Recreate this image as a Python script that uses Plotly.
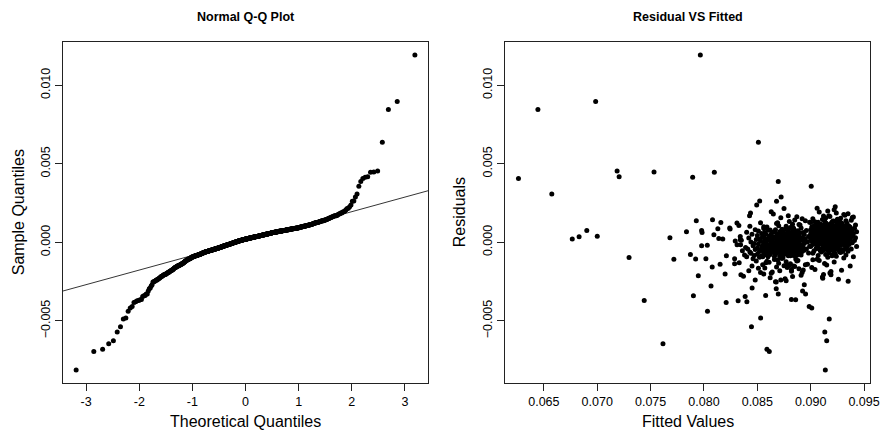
import numpy as np
import plotly.graph_objects as go
from statistics import NormalDist

# ---------------- data ----------------
# individually identified points (fitted value, residual)
FITTED_OUT = [
    0.06262, 0.06444, 0.06574, 0.06766, 0.06830, 0.06902, 0.06985, 0.07000, 0.07186, 0.07205,
    0.07298, 0.07440, 0.07532, 0.07616, 0.07681, 0.07718, 0.07836, 0.07873, 0.07894, 0.07901,
    0.07922, 0.07928, 0.07947, 0.07966, 0.07978, 0.07978, 0.07982, 0.08018, 0.08031, 0.08033,
    0.08066, 0.08077, 0.08080, 0.08097, 0.08093, 0.08130, 0.08139, 0.08151, 0.08158, 0.08176,
    0.08198, 0.08208, 0.08210, 0.08241, 0.08245, 0.08287, 0.08287, 0.08293, 0.08309, 0.08320,
    0.08327, 0.08346, 0.08340, 0.08343, 0.08386, 0.08402, 0.08427, 0.08436, 0.08451, 0.08445,
    0.08494, 0.08510, 0.08522, 0.08531, 0.08578, 0.08590, 0.08612, 0.08680, 0.08696, 0.08723,
    0.08677, 0.08696, 0.08677, 0.08819, 0.08859, 0.08924, 0.08952, 0.08940, 0.08986, 0.09010,
    0.09005, 0.09174, 0.09132, 0.09150, 0.09137, 0.09351, 0.09289, 0.09190, 0.09113, 0.09020,
]
RESID_OUT = [
    0.00406, 0.00845, 0.00308, 0.00021, 0.00035, 0.00076, 0.00896, 0.00039, 0.00454, 0.00418,
    -0.00096, -0.00370, 0.00448, -0.00646, 0.00030, -0.00107, 0.00068, -0.00078, 0.00414, -0.00340,
    -0.00106, 0.00138, -0.00212, 0.01193, -0.00021, 0.00076, 0.00062, -0.00104, -0.00019, -0.00438,
    -0.00278, -0.00157, 0.00144, 0.00446, 0.00049, 0.00087, 0.00024, -0.00140, 0.00127, 0.00021,
    -0.00202, -0.00383, -0.00085, 0.00091, 0.00085, -0.00104, -0.00136, 0.00008, 0.00123, -0.00372,
    0.00107, -0.00206, 0.00017, -0.00015, -0.00344, -0.00378, 0.00170, 0.00187, -0.00291, -0.00537,
    0.00238, 0.00637, 0.00263, -0.00482, -0.00338, -0.00680, -0.00694, 0.00261, 0.00388, 0.00289,
    -0.00295, -0.00329, -0.00253, -0.00363, -0.00365, -0.00310, -0.00329, -0.00270, -0.00408, -0.00418,
    0.00357, -0.00488, -0.00571, -0.00626, -0.00813, -0.00248, -0.00178, -0.00206, -0.00229, -0.00111,
]

# sparse band (fitted about 0.083-0.0856)
FITTED_S = [
    0.0848, 0.0837, 0.0853, 0.0842, 0.0851, 0.0845, 0.0855, 0.0833, 0.0849, 0.0846,
    0.0852, 0.0840, 0.0854, 0.0847, 0.0838, 0.0850, 0.0844, 0.0856, 0.0843, 0.0852,
    0.0836, 0.0853, 0.0848, 0.0841, 0.0855, 0.0850, 0.0839, 0.0854, 0.0846, 0.0831,
    0.0851, 0.0847, 0.0856, 0.0844, 0.0853, 0.0835, 0.0849, 0.0852, 0.0842, 0.0855,
    0.0834, 0.0850, 0.0845, 0.0854, 0.0840, 0.0851, 0.0848, 0.0856, 0.0843, 0.0853,
]
RESID_S = [
    -0.00240, -0.00215, -0.00192, -0.00180, -0.00165, -0.00150, -0.00142, -0.00130, -0.00118, -0.00105,
    -0.00095, -0.00091, -0.00087, -0.00083, -0.00080, -0.00075, -0.00070, -0.00066, -0.00062, -0.00058,
    -0.00054, -0.00050, -0.00046, -0.00042, -0.00038, -0.00036, -0.00033, -0.00028, -0.00022, -0.00016,
    -0.00011, -0.00007, -0.00004, 0.00002, 0.00008, 0.00013, 0.00018, 0.00022, 0.00028, 0.00033,
    0.00038, 0.00044, 0.00051, 0.00057, 0.00064, 0.00072, 0.00080, 0.00088, 0.00102, 0.00125,
]

# middle cluster (fitted about 0.0855-0.0900)
FITTED_M = [
    0.0857, 0.0862, 0.0866, 0.0871, 0.0874, 0.0877, 0.0881, 0.0884, 0.0887, 0.0892,
    0.0856, 0.0861, 0.0868, 0.0872, 0.0876, 0.0879, 0.0882, 0.0886, 0.0891, 0.0897,
    0.0859, 0.0864, 0.0867, 0.0870, 0.0873, 0.0878, 0.0880, 0.0883, 0.0888, 0.0893,
    0.0858, 0.0863, 0.0869, 0.0872, 0.0875, 0.0877, 0.0882, 0.0885, 0.0889, 0.0895,
    0.0855, 0.0860, 0.0866, 0.0871, 0.0874, 0.0879, 0.0881, 0.0884, 0.0887, 0.0891,
    0.0857, 0.0862, 0.0867, 0.0873, 0.0876, 0.0878, 0.0883, 0.0886, 0.0890, 0.0898,
    0.0859, 0.0865, 0.0868, 0.0870, 0.0875, 0.0877, 0.0880, 0.0885, 0.0888, 0.0892,
    0.0856, 0.0861, 0.0869, 0.0872, 0.0874, 0.0879, 0.0882, 0.0884, 0.0889, 0.0894,
    0.0858, 0.0863, 0.0866, 0.0871, 0.0876, 0.0878, 0.0881, 0.0887, 0.0890, 0.0896,
    0.0860, 0.0864, 0.0867, 0.0873, 0.0875, 0.0880, 0.0883, 0.0885, 0.0888, 0.0893,
    0.0857, 0.0862, 0.0868, 0.0870, 0.0874, 0.0877, 0.0882, 0.0886, 0.0891, 0.0899,
    0.0855, 0.0865, 0.0869, 0.0872, 0.0876, 0.0879, 0.0881, 0.0884, 0.0887, 0.0892,
    0.0859, 0.0861, 0.0866, 0.0871, 0.0875, 0.0878, 0.0883, 0.0885, 0.0889, 0.0894,
    0.0856, 0.0863, 0.0867, 0.0873, 0.0874, 0.0877, 0.0880, 0.0886, 0.0888, 0.0897,
    0.0858, 0.0864, 0.0868, 0.0870, 0.0876, 0.0879, 0.0882, 0.0884, 0.0890, 0.0893,
    0.0857, 0.0860, 0.0869, 0.0872, 0.0875, 0.0878, 0.0881, 0.0887, 0.0891, 0.0895,
    0.0859, 0.0862, 0.0866, 0.0871, 0.0874, 0.0880, 0.0883, 0.0885, 0.0888, 0.0892,
    0.0856, 0.0865, 0.0867, 0.0873, 0.0877, 0.0879, 0.0882, 0.0886, 0.0889, 0.0898,
    0.0855, 0.0861, 0.0868, 0.0870, 0.0876, 0.0878, 0.0881, 0.0884, 0.0887, 0.0894,
    0.0858, 0.0863, 0.0869, 0.0872, 0.0875, 0.0877, 0.0880, 0.0885, 0.0890, 0.0893,
    0.0857, 0.0864, 0.0866, 0.0871, 0.0874, 0.0879, 0.0883, 0.0886, 0.0888, 0.0896,
    0.0860, 0.0862, 0.0867, 0.0873, 0.0876, 0.0878, 0.0882, 0.0884, 0.0891, 0.0892,
    0.0859, 0.0865, 0.0868, 0.0870, 0.0875, 0.0880, 0.0881, 0.0887, 0.0889, 0.0895,
    0.0856, 0.0863, 0.0869, 0.0872, 0.0877, 0.0879, 0.0883, 0.0885, 0.0890, 0.0899,
]
RESID_M = [
    -0.00164, -0.00225, -0.00109, -0.00180, -0.00098, -0.00245, -0.00136, -0.00151, -0.00118, -0.00192,
    -0.00202, -0.00127, -0.00157, -0.00095, -0.00232, -0.00145, -0.00172, -0.00106, -0.00210, -0.00139,
    -0.00121, -0.00188, -0.00250, -0.00133, -0.00102, -0.00160, -0.00147, -0.00218, -0.00115, -0.00176,
    -0.00130, -0.00196, -0.00112, -0.00240, -0.00149, -0.00124, -0.00184, -0.00154, -0.00168, -0.00142,
    -0.00092, -0.00091, -0.00090, -0.00088, -0.00087, -0.00086, -0.00085, -0.00083, -0.00082, -0.00081,
    -0.00079, -0.00078, -0.00077, -0.00075, -0.00074, -0.00073, -0.00071, -0.00070, -0.00069, -0.00068,
    -0.00066, -0.00065, -0.00064, -0.00063, -0.00062, -0.00061,
    -0.00060, -0.00059, -0.00058, -0.00058, -0.00057, -0.00056, -0.00055, -0.00054, -0.00054, -0.00053,
    -0.00052, -0.00051, -0.00050, -0.00050, -0.00049, -0.00048, -0.00047, -0.00046, -0.00046, -0.00045,
    -0.00044, -0.00043, -0.00042, -0.00042, -0.00041, -0.00040, -0.00039, -0.00038, -0.00038, -0.00037,
    -0.00037, -0.00036, -0.00035,
    -0.00034, -0.00033, -0.00032, -0.00031, -0.00030, -0.00030, -0.00029, -0.00028, -0.00027, -0.00026,
    -0.00025, -0.00024, -0.00023, -0.00022, -0.00022, -0.00021, -0.00020, -0.00019, -0.00018, -0.00017,
    -0.00016, -0.00015, -0.00014, -0.00014, -0.00013, -0.00012, -0.00011, -0.00010, -0.00009, -0.00008,
    -0.00008, -0.00007,
    -0.00005, -0.00004, -0.00003, -0.00002, -0.00001, 0.00000, 0.00001, 0.00002, 0.00003, 0.00004,
    0.00005, 0.00006, 0.00007, 0.00008, 0.00009, 0.00010, 0.00011, 0.00012, 0.00013, 0.00014,
    0.00015, 0.00016, 0.00016, 0.00017, 0.00017, 0.00018, 0.00018, 0.00019,
    0.00021, 0.00022, 0.00023, 0.00024, 0.00025, 0.00026, 0.00027, 0.00028, 0.00029, 0.00030,
    0.00031, 0.00032, 0.00033, 0.00033, 0.00034, 0.00035, 0.00035, 0.00036, 0.00037, 0.00037,
    0.00038, 0.00039,
    0.00041, 0.00042, 0.00043, 0.00044, 0.00045, 0.00047, 0.00048, 0.00049, 0.00050, 0.00051,
    0.00052, 0.00053, 0.00054, 0.00055, 0.00056, 0.00057, 0.00059,
    0.00061, 0.00062, 0.00063, 0.00065, 0.00066, 0.00067, 0.00069, 0.00070, 0.00071, 0.00072,
    0.00074, 0.00075,
    0.00077, 0.00079, 0.00081, 0.00083, 0.00084, 0.00086, 0.00088, 0.00089, 0.00091,
    0.00150, 0.00097, 0.00180, 0.00120, 0.00106, 0.00215, 0.00133, 0.00094, 0.00163, 0.00113,
    0.00138, 0.00100, 0.00195, 0.00124, 0.00157, 0.00103, 0.00170, 0.00116, 0.00143, 0.00110,
    0.00128,
]

# dense cluster (fitted about 0.0900-0.0943)
FITTED_D = [
    0.0901, 0.0906, 0.0911, 0.0913, 0.0916, 0.0919, 0.0922, 0.0926, 0.0931, 0.0937,
    0.0904, 0.0908, 0.0912, 0.0915, 0.0918, 0.0921, 0.0924, 0.0928, 0.0933, 0.0940,
    0.0902, 0.0907, 0.0910, 0.0914, 0.0917, 0.0920, 0.0923, 0.0927, 0.0930, 0.0935,
    0.0903, 0.0909, 0.0912, 0.0916, 0.0919, 0.0922, 0.0925, 0.0929, 0.0932, 0.0938,
    0.0905, 0.0908, 0.0911, 0.0915, 0.0918, 0.0921, 0.0924, 0.0926, 0.0934, 0.0943,
    0.0900, 0.0906, 0.0913, 0.0914, 0.0917, 0.0920, 0.0923, 0.0928, 0.0931, 0.0936,
    0.0902, 0.0907, 0.0910, 0.0915, 0.0919, 0.0921, 0.0925, 0.0927, 0.0933, 0.0939,
    0.0904, 0.0909, 0.0912, 0.0914, 0.0916, 0.0922, 0.0924, 0.0929, 0.0930, 0.0935,
    0.0901, 0.0905, 0.0911, 0.0913, 0.0918, 0.0920, 0.0923, 0.0926, 0.0932, 0.0941,
    0.0903, 0.0908, 0.0910, 0.0916, 0.0917, 0.0921, 0.0925, 0.0928, 0.0934, 0.0937,
    0.0900, 0.0907, 0.0912, 0.0915, 0.0919, 0.0922, 0.0924, 0.0927, 0.0931, 0.0936,
    0.0905, 0.0906, 0.0913, 0.0914, 0.0918, 0.0920, 0.0923, 0.0929, 0.0933, 0.0942,
    0.0902, 0.0909, 0.0911, 0.0916, 0.0917, 0.0921, 0.0926, 0.0928, 0.0930, 0.0938,
    0.0904, 0.0908, 0.0910, 0.0915, 0.0919, 0.0922, 0.0925, 0.0927, 0.0932, 0.0935,
    0.0901, 0.0907, 0.0912, 0.0913, 0.0918, 0.0920, 0.0924, 0.0926, 0.0934, 0.0939,
    0.0903, 0.0906, 0.0911, 0.0914, 0.0916, 0.0921, 0.0923, 0.0929, 0.0931, 0.0936,
    0.0905, 0.0909, 0.0913, 0.0915, 0.0917, 0.0922, 0.0925, 0.0928, 0.0933, 0.0940,
    0.0900, 0.0908, 0.0910, 0.0916, 0.0919, 0.0920, 0.0924, 0.0927, 0.0930, 0.0937,
    0.0902, 0.0907, 0.0912, 0.0914, 0.0918, 0.0921, 0.0923, 0.0926, 0.0932, 0.0935,
    0.0904, 0.0906, 0.0911, 0.0913, 0.0917, 0.0922, 0.0926, 0.0929, 0.0934, 0.0943,
    0.0901, 0.0909, 0.0910, 0.0915, 0.0916, 0.0920, 0.0925, 0.0928, 0.0931, 0.0938,
    0.0903, 0.0908, 0.0913, 0.0914, 0.0919, 0.0921, 0.0924, 0.0927, 0.0933, 0.0936,
    0.0905, 0.0907, 0.0911, 0.0916, 0.0918, 0.0922, 0.0923, 0.0929, 0.0930, 0.0939,
    0.0900, 0.0906, 0.0912, 0.0915, 0.0917, 0.0920, 0.0925, 0.0926, 0.0932, 0.0935,
    0.0902, 0.0909, 0.0910, 0.0913, 0.0919, 0.0921, 0.0924, 0.0928, 0.0934, 0.0941,
    0.0904, 0.0908, 0.0911, 0.0914, 0.0916, 0.0922, 0.0923, 0.0927, 0.0931, 0.0937,
    0.0901, 0.0907, 0.0913, 0.0915, 0.0918, 0.0920, 0.0926, 0.0929, 0.0933, 0.0936,
    0.0903, 0.0906, 0.0912, 0.0916, 0.0917, 0.0921, 0.0924, 0.0928, 0.0930, 0.0942,
    0.0905, 0.0909, 0.0910, 0.0914, 0.0919, 0.0922, 0.0925, 0.0926, 0.0932, 0.0938,
    0.0900, 0.0908, 0.0911, 0.0913, 0.0918, 0.0920, 0.0923, 0.0927, 0.0934, 0.0935,
    0.0902, 0.0907, 0.0912, 0.0915, 0.0916, 0.0921, 0.0925, 0.0929, 0.0931, 0.0939,
    0.0904, 0.0906, 0.0913, 0.0914, 0.0917, 0.0922, 0.0924, 0.0928, 0.0933, 0.0940,
]
RESID_D = [
    -0.00160, -0.00108, -0.00220, -0.00135, -0.00095, -0.00185, -0.00125, -0.00235, -0.00100, -0.00150,
    -0.00172, -0.00116, -0.00205, -0.00144, -0.00195,
    -0.00075, -0.00089, -0.00064, -0.00081, -0.00092, -0.00069, -0.00084, -0.00062, -0.00078, -0.00066,
    -0.00086, -0.00072,
    -0.00060, -0.00058, -0.00057, -0.00055, -0.00054, -0.00052, -0.00051, -0.00049, -0.00048, -0.00046,
    -0.00045, -0.00043, -0.00042, -0.00040, -0.00039, -0.00037, -0.00036,
    -0.00034, -0.00033, -0.00031, -0.00030, -0.00029, -0.00027, -0.00026, -0.00025, -0.00023, -0.00022,
    -0.00021, -0.00019, -0.00018, -0.00017, -0.00015, -0.00014, -0.00013, -0.00012, -0.00011, -0.00010,
    -0.00009, -0.00008, -0.00007,
    -0.00005, -0.00004, -0.00003, -0.00003, -0.00002, -0.00001, 0.00000, 0.00001, 0.00001, 0.00002,
    0.00003, 0.00004, 0.00005, 0.00005, 0.00006, 0.00007, 0.00008, 0.00008, 0.00009, 0.00010,
    0.00011, 0.00011, 0.00012, 0.00013, 0.00014, 0.00014, 0.00015, 0.00016, 0.00017, 0.00017,
    0.00018, 0.00019, 0.00019,
    0.00020, 0.00021, 0.00021, 0.00022, 0.00022, 0.00023, 0.00023, 0.00024, 0.00024, 0.00025,
    0.00026, 0.00026, 0.00027, 0.00027, 0.00028, 0.00028, 0.00029, 0.00029, 0.00030, 0.00030,
    0.00031, 0.00031, 0.00032, 0.00032, 0.00033, 0.00033, 0.00034, 0.00034, 0.00035, 0.00035,
    0.00036, 0.00036, 0.00037, 0.00037, 0.00038, 0.00038, 0.00039,
    0.00040, 0.00040, 0.00041, 0.00041, 0.00041, 0.00042, 0.00042, 0.00043, 0.00043, 0.00044,
    0.00044, 0.00045, 0.00045, 0.00046, 0.00046, 0.00047, 0.00047, 0.00047, 0.00048, 0.00048,
    0.00049, 0.00049, 0.00050, 0.00050, 0.00051, 0.00051, 0.00052, 0.00052, 0.00053, 0.00053,
    0.00053, 0.00054, 0.00054, 0.00055, 0.00055, 0.00056, 0.00056, 0.00057, 0.00057, 0.00058,
    0.00058, 0.00059, 0.00059, 0.00060,
    0.00061, 0.00061, 0.00062, 0.00062, 0.00062, 0.00063, 0.00063, 0.00064, 0.00064, 0.00064,
    0.00065, 0.00065, 0.00066, 0.00066, 0.00066, 0.00067, 0.00067, 0.00068, 0.00068, 0.00068,
    0.00069, 0.00069, 0.00070, 0.00070, 0.00070, 0.00071, 0.00071, 0.00072, 0.00072, 0.00072,
    0.00073, 0.00073, 0.00074, 0.00074, 0.00074, 0.00075, 0.00075, 0.00076, 0.00076, 0.00076,
    0.00077, 0.00077, 0.00078, 0.00078, 0.00079, 0.00079, 0.00080, 0.00080, 0.00080, 0.00081,
    0.00081, 0.00082, 0.00082, 0.00083, 0.00083, 0.00084, 0.00084, 0.00085, 0.00085, 0.00086,
    0.00086, 0.00086, 0.00087, 0.00087, 0.00088, 0.00088, 0.00089, 0.00089, 0.00090, 0.00090,
    0.00091, 0.00091, 0.00092, 0.00092,
    0.00093, 0.00094, 0.00095, 0.00095, 0.00096, 0.00097, 0.00098, 0.00098, 0.00099, 0.00100,
    0.00100, 0.00101, 0.00102, 0.00103, 0.00103, 0.00104, 0.00105, 0.00106, 0.00106, 0.00107,
    0.00108, 0.00109, 0.00110, 0.00110, 0.00111, 0.00112, 0.00113, 0.00114,
    0.00155, 0.00120, 0.00208, 0.00133, 0.00117, 0.00173, 0.00140, 0.00126, 0.00193, 0.00145,
    0.00115, 0.00164, 0.00130, 0.00227, 0.00137, 0.00121, 0.00182, 0.00150, 0.00128, 0.00167,
    0.00118, 0.00200, 0.00136, 0.00147, 0.00123, 0.00177, 0.00158, 0.00131, 0.00217, 0.00142,
    0.00125, 0.00170, 0.00134, 0.00187, 0.00153, 0.00138, 0.00161,
]

QQ_X_TICKS = [-3, -2, -1, 0, 1, 2, 3]
RES_Y_TICKS = [-0.005, 0.000, 0.005, 0.010]
FIT_X_TICKS = [0.065, 0.070, 0.075, 0.080, 0.085, 0.090, 0.095]

TITLE_QQ = "Normal Q-Q Plot"
TITLE_RF = "Residual VS Fitted"

# ---------------- assemble ----------------
for a, b, name in [(FITTED_OUT, RESID_OUT, "out"), (FITTED_S, RESID_S, "s"),
                   (FITTED_M, RESID_M, "m"), (FITTED_D, RESID_D, "d")]:
    assert len(a) == len(b), (name, len(a), len(b))

fitted = np.array(FITTED_OUT + FITTED_S + FITTED_M + FITTED_D)
resid = np.array(RESID_OUT + RESID_S + RESID_M + RESID_D)
n = len(resid)

nd = NormalDist()
sample_q = np.sort(resid)
theo_q = np.array([nd.inv_cdf((i - 0.5) / n) for i in range(1, n + 1)])

# qqline through the quartiles
q1, q3 = np.percentile(resid, [25, 75])
t1, t3 = nd.inv_cdf(0.25), nd.inv_cdf(0.75)
slope = (q3 - q1) / (t3 - t1)
intercept = q1 - slope * t1


def rng(v):
    lo, hi = float(np.min(v)), float(np.max(v))
    pad = 0.04 * (hi - lo)
    return [lo - pad, hi + pad]


xr_qq = rng(theo_q)
yr_qq = rng(sample_q)
xr_rf = rng(fitted)
yr_rf = rng(resid)

W, H = 890, 432
dom_left = [63.3 / W, 433.3 / W]
dom_right = [510.7 / W, 880.0 / W]
dom_y = [(H - 382.7) / H, (H - 42.3) / H]

FONT = "Liberation Sans, Arial, sans-serif"
tickfont = dict(family=FONT, size=12.5, color="black")

fig = go.Figure()
fig.add_trace(go.Scatter(x=theo_q, y=sample_q, mode="markers",
                         marker=dict(color="black", size=5, line=dict(width=0)),
                         xaxis="x", yaxis="y", showlegend=False))
fig.add_trace(go.Scatter(x=xr_qq, y=[intercept + slope * v for v in xr_qq], mode="lines",
                         line=dict(color="black", width=0.8),
                         xaxis="x", yaxis="y", showlegend=False))
fig.add_trace(go.Scatter(x=fitted, y=resid, mode="markers",
                         marker=dict(color="black", size=5, line=dict(width=0)),
                         xaxis="x2", yaxis="y2", showlegend=False))

axis_common = dict(showline=True, mirror=True, linecolor="#222", linewidth=1,
                   ticks="outside", ticklen=7, tickwidth=1, tickcolor="#222",
                   showgrid=False, zeroline=False, tickfont=tickfont)

fig.update_layout(
    width=W, height=H,
    margin=dict(l=0, r=0, t=0, b=0),
    paper_bgcolor="white", plot_bgcolor="white",
    xaxis=dict(domain=dom_left, range=xr_qq, tickvals=QQ_X_TICKS,
               ticktext=[str(v) for v in QQ_X_TICKS], anchor="y", **axis_common),
    yaxis=dict(domain=dom_y, range=yr_qq, tickvals=RES_Y_TICKS, tickformat=".3f",
               tickangle=-90, anchor="x", **axis_common),
    xaxis2=dict(domain=dom_right, range=xr_rf, tickvals=FIT_X_TICKS, tickformat=".3f",
                anchor="y2", **axis_common),
    yaxis2=dict(domain=dom_y, range=yr_rf, tickvals=RES_Y_TICKS, tickformat=".3f",
                tickangle=-90, anchor="x2", **axis_common),
)

ann = []
cl = (dom_left[0] + dom_left[1]) / 2
cr = (dom_right[0] + dom_right[1]) / 2
ann.append(dict(text="<b>" + TITLE_QQ + "</b>", x=cl, y=1 - 17 / H, xref="paper", yref="paper",
                showarrow=False, font=dict(family=FONT, size=12.5, color="black"),
                xanchor="center", yanchor="middle"))
ann.append(dict(text="<b>" + TITLE_RF + "</b>", x=cr, y=1 - 17 / H, xref="paper", yref="paper",
                showarrow=False, font=dict(family=FONT, size=12.5, color="black"),
                xanchor="center", yanchor="middle"))
ann.append(dict(text="Theoretical Quantiles", x=cl, y=(H - 421.5) / H, xref="paper", yref="paper",
                showarrow=False, font=dict(family=FONT, size=16, color="black"),
                xanchor="center", yanchor="middle"))
ann.append(dict(text="Fitted Values", x=cr, y=(H - 421.5) / H, xref="paper", yref="paper",
                showarrow=False, font=dict(family=FONT, size=16, color="black"),
                xanchor="center", yanchor="middle"))
ymid = (dom_y[0] + dom_y[1]) / 2
ann.append(dict(text="Sample Quantiles", x=19 / W, y=ymid, xref="paper", yref="paper",
                showarrow=False, textangle=-90, font=dict(family=FONT, size=16, color="black"),
                xanchor="center", yanchor="middle"))
ann.append(dict(text="Residuals", x=465 / W, y=ymid, xref="paper", yref="paper",
                showarrow=False, textangle=-90, font=dict(family=FONT, size=16, color="black"),
                xanchor="center", yanchor="middle"))
fig.update_layout(annotations=ann)

fig.write_html("out.html")
